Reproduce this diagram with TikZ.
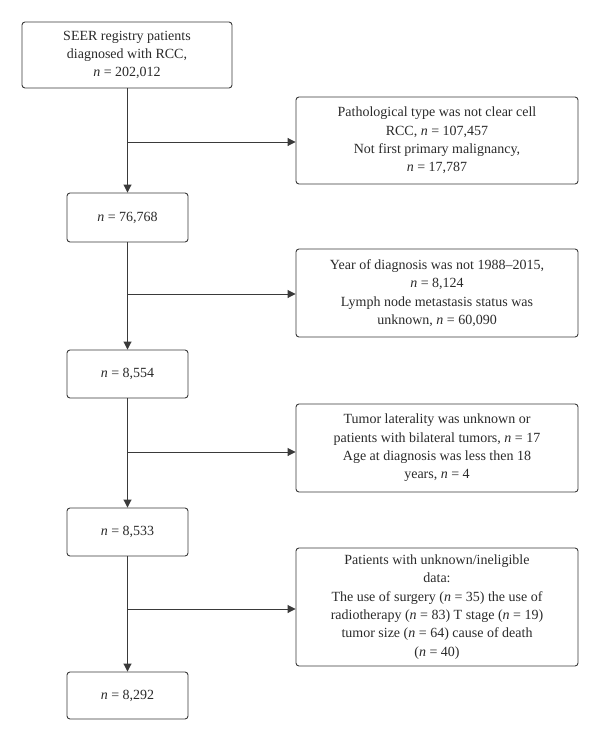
\documentclass[tikz,border=0pt]{standalone}
\usepackage{fontspec}
\setmainfont{Liberation Serif}
\usetikzlibrary{arrows.meta}
\definecolor{linec}{HTML}{3A3A3A}
\definecolor{textc}{HTML}{2A2A2A}
\begin{document}
\begin{tikzpicture}[x=1pt,y=-1pt,
  box/.style={draw=linec, line width=0.9pt, rounded corners=3pt, align=center,
    text=textc, font=\fontsize{14}{18.3}\selectfont, inner sep=0pt, minimum width=#1},
  arr/.style={draw=linec, line width=0.9pt, -{Triangle[length=8pt,width=8pt]}},
  ln/.style={draw=linec, line width=0.9pt}]
\useasboundingbox (0,0) rectangle (600,741);
\newcommand{\nn}{\textit{n}}
\node[box=210, minimum height=66] (a1) at (127,55) {SEER registry patients\\diagnosed with RCC,\\\nn{} = 202,012};
\node[box=282, minimum height=87] (r1) at (437,140.5) {Pathological type was not clear cell\\RCC, \nn{} = 107,457\\Not first primary malignancy,\\\nn{} = 17,787};
\node[box=121, minimum height=49] (a2) at (127.5,217.5) {\nn{} = 76,768};
\node[box=282, minimum height=88] (r2) at (437,293) {Year of diagnosis was not 1988--2015,\\\nn{} = 8,124\\Lymph node metastasis status was\\unknown, \nn{} = 60,090};
\node[box=121, minimum height=48] (a3) at (127.5,374) {\nn{} = 8,554};
\node[box=282, minimum height=88] (r3) at (437,448) {Tumor laterality was unknown or\\patients with bilateral tumors, \nn{} = 17\\Age at diagnosis was less then 18\\years, \nn{} = 4};
\node[box=121, minimum height=48] (a4) at (127.5,532) {\nn{} = 8,533};
\node[box=282, minimum height=118] (r4) at (437,607) {Patients with unknown/ineligible\\data:\\The use of surgery (\nn{} = 35) the use of\\radiotherapy (\nn{} = 83) T stage (\nn{} = 19)\\tumor size (\nn{} = 64) cause of death\\(\nn{} = 40)};
\node[box=121, minimum height=47] (a5) at (127.5,695.5) {\nn{} = 8,292};
\coordinate (j1) at (127.5,142);
\coordinate (j2) at (127.5,294);
\coordinate (j3) at (127.5,452);
\coordinate (j4) at (127.5,609);
\draw[arr] (a1.south -| a2) -- (a2.north);
\draw[arr] (a2) -- (a3);
\draw[arr] (a3) -- (a4);
\draw[arr] (a4) -- (a5);
\draw[arr] (j1) -- (j1 -| r1.west);
\draw[arr] (j2) -- (j2 -| r2.west);
\draw[arr] (j3) -- (j3 -| r3.west);
\draw[arr] (j4) -- (j4 -| r4.west);
\end{tikzpicture}
\end{document}
